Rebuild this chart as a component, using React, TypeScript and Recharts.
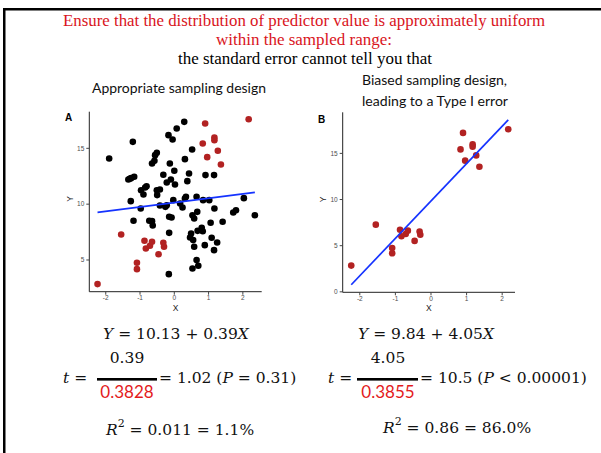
import React from "react";
import { ScatterChart, Scatter, XAxis, YAxis } from "recharts";

// appropriate design: points in the middle of the X range (black)
const blackX = [-1.9, -1.21, -1.27, -1.34, -1.3, -1.26, -1.17, -1.19, -0.98, -0.97, -0.9, -0.85, -0.81, -0.73, -0.65, -0.63, -0.65, -0.58, -0.56, -0.51, -0.51, -0.42, -0.5, -0.42, -0.32, -0.26, -0.22, -0.17, -0.05, 0.07, 0.29, -0.13, 0.0, -0.22, -0.1, 0.02, -0.15, -0.08, -0.15, -0.16, -0.03, 0.24, 0.31, 0.34, 0.17, 0.31, 0.38, 0.43, 0.52, 0.49, 0.46, 0.53, 0.58, 0.55, 0.58, 0.65, 0.67, 0.65, 0.53, 0.7, 0.68, 0.8, 0.83, 0.84, 0.89, 0.91, 1.02, 1.06, 1.09, 1.16, 1.17, 1.16, 1.25, 1.41, 1.72, 1.8, 2.03, 2.35];
const blackY = [14.09, 15.58, 10.27, 12.21, 12.27, 12.33, 12.45, 8.51, 9.61, 11.25, 10.87, 11.49, 11.61, 8.51, 8.48, 8.09, 13.64, 13.88, 14.39, 14.6, 11.25, 11.31, 10.81, 9.88, 12.63, 9.76, 9.9, 16.18, 15.79, 16.78, 17.37, 13.64, 12.99, 11.94, 12.21, 11.76, 8.87, 8.81, 7.43, 3.73, 10.36, 9.7, 10.51, 10.66, 10.06, 14.03, 12.06, 12.75, 14.9, 7.37, 7.01, 9.01, 8.72, 6.78, 6.18, 10.66, 9.31, 4.99, 4.24, 4.48, 7.61, 7.88, 7.58, 10.36, 6.33, 12.6, 10.36, 8.33, 6.99, 12.6, 9.61, 5.88, 6.57, 8.42, 9.25, 9.46, 10.54, 9.01];

// points at the extremes (red), the only ones kept in the biased design
const redX = [-2.24, -1.55, -1.09, -1.09, -0.87, -0.83, -0.71, -0.65, -0.46, -0.32, -0.3, 0.9, 0.83, 1.17, 1.17, 1.27, 0.96, 1.36, 2.17];
const redY = [2.84, 7.28, 4.75, 4.18, 6.72, 6.03, 6.27, 6.63, 5.52, 6.54, 6.18, 17.22, 15.43, 15.97, 15.73, 14.78, 14.21, 13.55, 17.61];

// fitted lines, ends
const fitAX = [-2.24, 2.35];
const fitAY = [9.26, 11.05];
const fitBX = [-2.24, 2.17];
const fitBY = [0.77, 18.63];

const ticksX = [-2, -1, 0, 1, 2];
const ticksAY = [5, 10, 15];
const ticksBY = [0, 5, 10, 15];

const RED = "#b22222";
const BLUE = "#1533ff";
const TITLE_RED = "#d9141c";

const toPts = (xs: number[], ys: number[]) => xs.map((x, i) => ({ x, y: ys[i] }));

const dot = (color: string) => (p: any) => <circle cx={p.cx} cy={p.cy} r={3.3} fill={color} />;
const noDot = () => <g />;

const tickStyle = { fontSize: 6.5, fill: "#4d4d4d", fontFamily: "Liberation Sans" };
const axisLine = { stroke: "#222", strokeWidth: 1 };
const tickLine = { stroke: "#444" };
const axisTitle = { fontSize: 8.5, fill: "#222", fontFamily: "Liberation Sans" };

function PanelA() {
  return (
    <ScatterChart width={210} height={215} margin={{ top: 11.7, right: 8.3, bottom: 3.3, left: 0 }}>
      <XAxis
        type="number"
        dataKey="x"
        domain={[-2.48, 2.55]}
        ticks={ticksX}
        allowDataOverflow
        height={20}
        tick={tickStyle}
        tickSize={3}
        tickMargin={1}
        axisLine={axisLine}
        tickLine={tickLine}
        label={{ value: "X", position: "insideBottom", offset: 1, ...axisTitle }}
      />
      <YAxis
        type="number"
        dataKey="y"
        domain={[2.16, 18.28]}
        ticks={ticksAY}
        allowDataOverflow
        width={29.3}
        tick={tickStyle}
        tickSize={3}
        tickMargin={2}
        axisLine={axisLine}
        tickLine={tickLine}
        label={{ value: "Y", position: "insideLeft", angle: -90, offset: 10, ...axisTitle }}
      />
      <Scatter data={toPts(blackX, blackY)} shape={dot("#000")} isAnimationActive={false} />
      <Scatter data={toPts(redX, redY)} shape={dot(RED)} isAnimationActive={false} />
      <Scatter data={toPts(fitAX, fitAY)} line={{ stroke: BLUE, strokeWidth: 1.7 }} shape={noDot} isAnimationActive={false} />
    </ScatterChart>
  );
}

function PanelB() {
  return (
    <ScatterChart width={225} height={215} margin={{ top: 12.3, right: 10, bottom: 2.7, left: 0 }}>
      <XAxis
        type="number"
        dataKey="x"
        domain={[-2.48, 2.36]}
        ticks={ticksX}
        allowDataOverflow
        height={20}
        tick={tickStyle}
        tickSize={3}
        tickMargin={1}
        axisLine={axisLine}
        tickLine={tickLine}
        label={{ value: "X", position: "insideBottom", offset: 1, ...axisTitle }}
      />
      <YAxis
        type="number"
        dataKey="y"
        domain={[-0.05, 19.45]}
        ticks={ticksBY}
        allowDataOverflow
        width={42.7}
        tick={tickStyle}
        tickSize={3}
        tickMargin={2}
        axisLine={axisLine}
        tickLine={tickLine}
        label={{ value: "Y", position: "insideLeft", angle: -90, offset: 22.7, ...axisTitle }}
      />
      <Scatter data={toPts(redX, redY)} shape={dot(RED)} isAnimationActive={false} />
      <Scatter data={toPts(fitBX, fitBY)} line={{ stroke: BLUE, strokeWidth: 1.7 }} shape={noDot} isAnimationActive={false} />
    </ScatterChart>
  );
}

const serif = "Liberation Serif";
const mathFont = "DejaVu Serif";
const sans = "Lato";

function Overlay() {
  const eq = { fontFamily: mathFont, fontSize: 15.5, fill: "#111", dominantBaseline: "central" as const };
  const den = { fontFamily: sans, fontSize: 17, fill: "#e31a1c", dominantBaseline: "central" as const, textAnchor: "middle" as const };
  return (
    <svg width={601} height={453} style={{ position: "absolute", left: 0, top: 0, pointerEvents: "none" }}>
      <rect x={3} y={8} width={600} height={2.5} fill="#000" />
      <rect x={3} y={8} width={2.5} height={450} fill="#000" />

      <g fontFamily={serif} fontSize={16} textAnchor="middle" dominantBaseline="central">
        <text x={304} y={20} fill={TITLE_RED} textLength={482} lengthAdjust="spacingAndGlyphs">
          Ensure that the distribution of predictor value is approximately uniform
        </text>
        <text x={304} y={39} fill={TITLE_RED} textLength={176} lengthAdjust="spacingAndGlyphs">
          within the sampled range:
        </text>
        <text x={305} y={58} fill="#000" textLength={254} lengthAdjust="spacingAndGlyphs">
          the standard error cannot tell you that
        </text>
      </g>

      <g fontFamily={sans} fontSize={13} fill="#111" dominantBaseline="central">
        <text x={92} y={88} textLength={174} lengthAdjust="spacingAndGlyphs">Appropriate sampling design</text>
        <text x={362} y={80} textLength={145} lengthAdjust="spacingAndGlyphs">Biased sampling design,</text>
        <text x={362} y={101} textLength={146} lengthAdjust="spacingAndGlyphs">leading to a Type I error</text>
      </g>

      <g fontFamily="Liberation Sans" fontWeight="bold" fontSize={10} fill="#000" dominantBaseline="central">
        <text x={65} y={117}>A</text>
        <text x={318} y={119}>B</text>
      </g>

      {/* left: appropriate design */}
      <text x={103} y={334} {...eq}>
        <tspan fontStyle="italic">Y</tspan> = 10.13 + 0.39<tspan fontStyle="italic">X</tspan>
      </text>
      <text x={63} y={378} {...eq}>
        <tspan fontStyle="italic">t</tspan>{"\u00a0="}
      </text>
      <text x={127} y={358} {...eq} textAnchor="middle">0.39</text>
      <rect x={97} y={378} width={60} height={2.6} fill="#000" />
      <text x={127} y={391} {...den}>0.3828</text>
      <text x={159} y={378} {...eq}>
        = 1.02 (<tspan fontStyle="italic">P</tspan> = 0.31)
      </text>
      <text x={106} y={430} {...eq}>
        <tspan fontStyle="italic">R</tspan>
        <tspan fontSize={11} dy={-7}>2</tspan>
        <tspan dy={7}>{"\u00a0= 0.011 = 1.1%"}</tspan>
      </text>

      {/* right: biased design */}
      <text x={358} y={334} {...eq}>
        <tspan fontStyle="italic">Y</tspan> = 9.84 + 4.05<tspan fontStyle="italic">X</tspan>
      </text>
      <text x={328} y={378} {...eq}>
        <tspan fontStyle="italic">t</tspan>{"\u00a0="}
      </text>
      <text x={388} y={358} {...eq} textAnchor="middle">4.05</text>
      <rect x={357} y={378} width={61} height={2.6} fill="#000" />
      <text x={388} y={391} {...den}>0.3855</text>
      <text x={420} y={378} {...eq}>
        = 10.5 (<tspan fontStyle="italic">P</tspan> &lt; 0.00001)
      </text>
      <text x={383} y={428} {...eq}>
        <tspan fontStyle="italic">R</tspan>
        <tspan fontSize={11} dy={-7}>2</tspan>
        <tspan dy={7}>{"\u00a0= 0.86 = 86.0%"}</tspan>
      </text>
    </svg>
  );
}

export default function App() {
  return (
    <div style={{ position: "absolute", left: 0, top: 0, width: 601, height: 453, background: "#fff", overflow: "hidden" }}>
      <div style={{ position: "absolute", left: 60, top: 100 }}>
        <PanelA />
      </div>
      <div style={{ position: "absolute", left: 300, top: 100 }}>
        <PanelB />
      </div>
      <Overlay />
    </div>
  );
}
